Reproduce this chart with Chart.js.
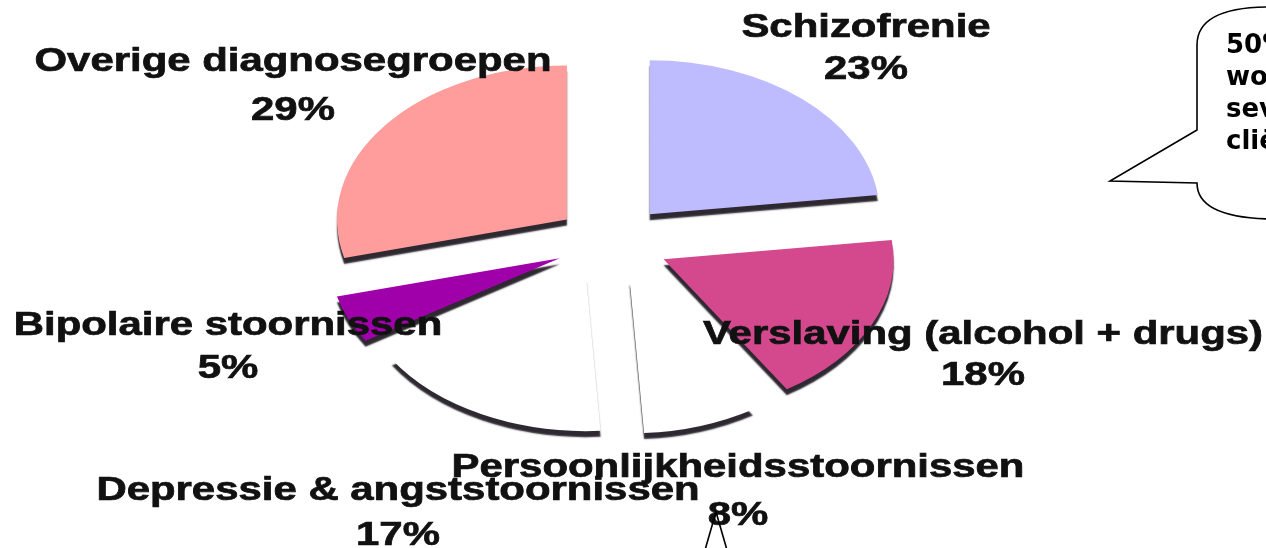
<!DOCTYPE html>
<html>
<head>
<meta charset="utf-8">
<script src="https://cdn.jsdelivr.net/npm/chart.js@4.4.0/dist/chart.umd.min.js"></script>
<style>
    html, body { margin: 0; padding: 0; background: #fff; overflow: hidden; }
    #pie { display: block; filter: blur(0.5px); }
</style>
</head>
<body>
<canvas id="pie" width="1266" height="548"></canvas>
<script>
// slices, clockwise from 12 o'clock
const categories = [
    'Schizofrenie',
    'Verslaving (alcohol + drugs)',
    'Persoonlijkheidsstoornissen',
    'Depressie & angststoornissen',
    'Bipolaire stoornissen',
    'Overige diagnosegroepen'
];
const shares = [23, 18, 8, 17, 5, 29];
const sliceColors = ['#bebcff', '#d4488e', '#ffffff', '#ffffff', '#a000aa', '#ff9d9d'];

// where each label sits: centre x, baseline of name, baseline of percentage
const labelSpots = [
    [866, 37, 79],
    [983, 344, 385],
    [738, 477, 525],
    [398, 500, 545],
    [228, 335, 378],
    [293, 71, 120]
];

const bubbleLines = ['50%', 'wo', 'sev', 'cli\u00eb'];

const TILT = 0.67;      // vertical squash for the 3d look
const CENTER_Y = 243;   // where the squashed pie centre ends up
const EXPLODE = 57;     // how far every slice is pulled out

// pull every slice out along its middle angle
const explodePlugin = {
    id: 'explode',
    afterDatasetsUpdate(chart) {
        chart.getDatasetMeta(0).data.forEach(arc => {
            const mid = (arc.startAngle + arc.endAngle) / 2;
            arc.x += Math.cos(mid) * EXPLODE;
            arc.y += Math.sin(mid) * EXPLODE;
        });
    }
};

// squash the pie into an ellipse and give it a dark "side" via shadow
const tiltPlugin = {
    id: 'tilt',
    beforeDatasetsDraw(chart) {
        const ctx = chart.ctx;
        const cy = (chart.chartArea.top + chart.chartArea.bottom) / 2;
        ctx.save();
        ctx.translate(0, CENTER_Y - TILT * cy);
        ctx.scale(1, TILT);
        ctx.shadowColor = 'rgba(35, 28, 38, 0.95)';
        ctx.shadowOffsetY = 6;
        ctx.shadowBlur = 1.5;
    },
    afterDatasetsDraw(chart) {
        chart.ctx.restore();
    }
};

function stretchedText(ctx, text, x, y, sx) {
    ctx.save();
    ctx.translate(x, y);
    ctx.scale(sx, 1);
    ctx.fillText(text, 0, 0);
    ctx.strokeText(text, 0, 0);
    ctx.restore();
}

const labelPlugin = {
    id: 'sliceLabels',
    afterDraw(chart) {
        const ctx = chart.ctx;
        ctx.save();
        ctx.fillStyle = '#111';
        ctx.strokeStyle = '#111';
        ctx.lineWidth = 0.7;
        ctx.font = "bold 33px 'Liberation Sans', Arial, sans-serif";
        ctx.textAlign = 'center';
        ctx.textBaseline = 'alphabetic';
        categories.forEach((name, i) => {
            const [x, y1, y2] = labelSpots[i];
            stretchedText(ctx, name, x, y1, 1.27);
            stretchedText(ctx, shares[i] + '%', x, y2, 1.27);
        });
        ctx.restore();

        // speech bubble, cut off by the right edge
        ctx.save();
        ctx.strokeStyle = '#000';
        ctx.lineWidth = 1.6;
        ctx.fillStyle = '#fff';
        ctx.beginPath();
        ctx.moveTo(1270, 7);
        ctx.bezierCurveTo(1225, 7, 1197, 18, 1197, 45);
        ctx.lineTo(1197, 130);
        ctx.lineTo(1110, 181);
        ctx.lineTo(1197, 183);
        ctx.bezierCurveTo(1197, 208, 1225, 218, 1270, 219);
        ctx.fill();
        ctx.stroke();

        ctx.fillStyle = '#000';
        ctx.font = "bold 26px 'DejaVu Sans', sans-serif";
        ctx.textAlign = 'left';
        bubbleLines.forEach((t, i) => ctx.fillText(t, 1226, 53 + i * 32));

        // tail of another callout below the chart
        ctx.beginPath();
        ctx.moveTo(705, 550);
        ctx.lineTo(716, 512);
        ctx.lineTo(727, 550);
        ctx.stroke();
        ctx.restore();
    }
};

new Chart(document.getElementById('pie'), {
    type: 'pie',
    data: {
        labels: categories,
        datasets: [{
            data: shares,
            backgroundColor: sliceColors,
            borderWidth: 0
        }]
    },
    options: {
        responsive: false,
        animation: false,
        radius: 230,
        layout: { padding: { left: 0, right: 42, top: 0, bottom: 0 } },
        plugins: {
            legend: { display: false },
            tooltip: { enabled: false }
        }
    },
    plugins: [explodePlugin, tiltPlugin, labelPlugin]
});
</script>
</body>
</html>
